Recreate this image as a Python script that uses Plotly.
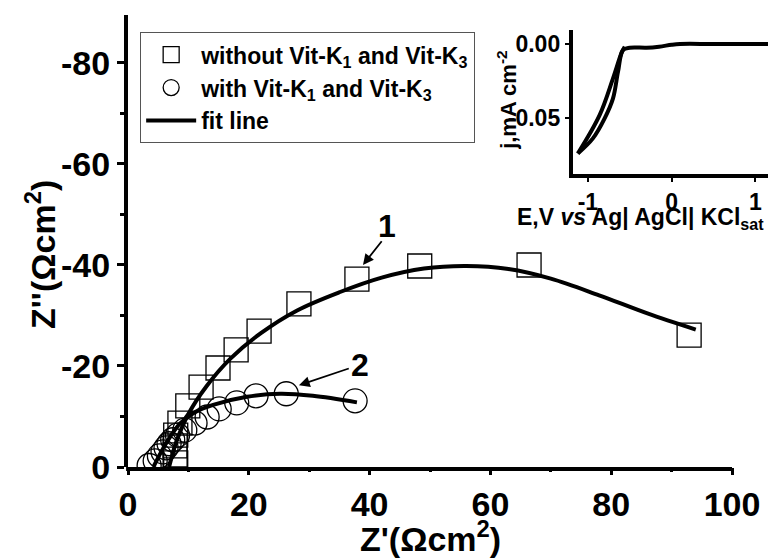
import plotly.graph_objects as go

# ---- main Nyquist data (Z' , Z'') ----
zre_1 = [7.9, 7.8, 7.8, 7.9, 8.6, 9.9, 12.1, 14.9, 17.9, 21.7, 28.3, 37.9, 48.3, 66.4, 92.9]
zim_1 = [-0.8, -2.4, -4.2, -6.3, -8.7, -12.1, -15.8, -19.6, -23.2, -26.9, -32.3, -37.2, -39.8, -40.0, -26.1]

zre_2 = [3.5, 4.5, 5.2, 5.8, 6.3, 6.8, 7.4, 8.2, 9.4, 11.1, 13.1, 15.1, 18.0, 21.2, 26.2, 37.6]
zim_2 = [-0.3, -1.2, -2.2, -3.0, -3.8, -4.6, -5.4, -6.3, -7.3, -8.7, -9.9, -11.5, -12.7, -14.1, -14.5, -13.1]

fit_re_1 = [6.8, 8.0, 10.0, 13.0, 17.0, 22.0, 28.0, 35.0, 42.0, 49.0, 56.0, 63.0, 70.0, 78.0, 86.0, 94.0]
fit_im_1 = [0.0, -5.0, -10.5, -16.0, -21.5, -26.5, -31.0, -34.6, -37.5, -39.3, -39.8, -39.2, -37.3, -34.0, -30.4, -27.2]

fit_re_2 = [4.2, 5.5, 7.0, 8.6, 11.0, 14.1, 19.7, 25.2, 30.6, 37.9]
fit_im_2 = [0.0, -3.0, -6.0, -8.6, -10.8, -12.3, -13.9, -14.5, -14.1, -12.8]

# ---- inset polarisation curve ----
e_fwd = [-1.12, -0.94, -0.80, -0.70, -0.64, -0.58, -0.50, -0.30, -0.15, 0.0, 0.10, 0.50, 1.15]
j_fwd = [-0.0739, -0.0637, -0.0502, -0.0367, -0.0187, -0.0040, -0.0025, -0.0025, -0.0018, -0.0005, 0.0, 0.0, 0.0]
e_back = [-0.56, -0.60, -0.70, -0.86, -1.12]
j_back = [-0.0018, -0.0063, -0.0232, -0.0480, -0.0739]

x_ticks = [0, 20, 40, 60, 80, 100]
x_minor = [10, 30, 50, 70, 90]
y_ticks = [0, -20, -40, -60, -80]
y_minor = [-10, -30, -50, -70]
in_x_ticks = [-1, 0, 1]
in_y_ticks = [0.0, -0.05]

FONT = "Liberation Sans, Arial, sans-serif"

fig = go.Figure()
fig.add_trace(go.Scatter(
    x=zre_1, y=zim_1, mode="markers",
    name="without Vit-K<sub>1</sub> and Vit-K<sub>3</sub>",
    marker=dict(symbol="square-open", size=24, color="black", line=dict(width=1.3)),
))
fig.add_trace(go.Scatter(
    x=zre_2, y=zim_2, mode="markers",
    name="with Vit-K<sub>1</sub> and Vit-K<sub>3</sub>",
    marker=dict(symbol="circle-open", size=24, color="black", line=dict(width=1.3)),
))
fig.add_trace(go.Scatter(
    x=fit_re_1, y=fit_im_1, mode="lines", name="fit line",
    line=dict(color="black", width=4, shape="spline"),
))
fig.add_trace(go.Scatter(
    x=fit_re_2, y=fit_im_2, mode="lines", showlegend=False,
    line=dict(color="black", width=4, shape="spline"),
))
fig.add_trace(go.Scatter(
    x=e_fwd, y=j_fwd, mode="lines", showlegend=False, xaxis="x2", yaxis="y2",
    line=dict(color="black", width=4, shape="spline"),
))
fig.add_trace(go.Scatter(
    x=e_back, y=j_back, mode="lines", showlegend=False, xaxis="x2", yaxis="y2",
    line=dict(color="black", width=4, shape="spline"),
))

tickfont = dict(family=FONT, size=34, color="black", weight="bold")
in_tickfont = dict(family=FONT, size=23, color="black", weight="bold")

x_max = 100 * 640 / 604.0

fig.update_layout(
    width=768, height=559,
    margin=dict(l=128, r=0, t=15, b=92),
    paper_bgcolor="white", plot_bgcolor="white",
    showlegend=True,
    legend=dict(
        x=0.019, y=0.962, xanchor="left", yanchor="top",
        bgcolor="white", bordercolor="#555", borderwidth=1,
        font=dict(family=FONT, size=23, color="black", weight="bold"),
        itemwidth=50,
    ),
    xaxis=dict(
        domain=[0, 1], range=[0, x_max], showline=False, showgrid=False, zeroline=False,
        tickmode="array", tickvals=x_ticks, ticktext=[str(v) for v in x_ticks],
        ticks="outside", ticklen=7, tickwidth=3, tickcolor="black",
        minor=dict(tickvals=x_minor, ticks="outside", ticklen=4, tickwidth=3, tickcolor="black"),
        tickfont=tickfont,
    ),
    yaxis=dict(
        domain=[0, 1], range=[0, -89.5], showline=True, linewidth=4, linecolor="black",
        showgrid=False, zeroline=False,
        tickmode="array", tickvals=y_ticks, ticktext=[str(v) for v in y_ticks],
        ticks="outside", ticklen=7, tickwidth=3, tickcolor="black",
        minor=dict(tickvals=y_minor, ticks="outside", ticklen=4, tickwidth=3, tickcolor="black"),
        tickfont=tickfont,
    ),
    xaxis2=dict(
        domain=[0.695, 1.0], anchor="y2", range=[-1.18, 1.15],
        showline=True, linewidth=4, linecolor="black", showgrid=False, zeroline=False,
        tickmode="array", tickvals=in_x_ticks, ticktext=[str(v) for v in in_x_ticks],
        ticks="outside", ticklen=4, tickwidth=2, tickcolor="black", tickfont=in_tickfont,
    ),
    yaxis2=dict(
        domain=[0.648, 0.967], anchor="x2", range=[-0.0878, 0.0095],
        showline=True, linewidth=4, linecolor="black", showgrid=False, zeroline=False,
        tickmode="array", tickvals=in_y_ticks, ticktext=["0.00", "-0.05"],
        ticks="outside", ticklen=4, tickwidth=2, tickcolor="black", tickfont=in_tickfont,
    ),
    shapes=[dict(type="line", xref="paper", yref="paper",
                 x0=-0.003, x1=100 / x_max, y0=-0.0045, y1=-0.0045,
                 line=dict(color="black", width=4))],
)

ann_font = dict(family=FONT, size=34, color="black", weight="bold")
fig.add_annotation(xref="paper", yref="paper", x=0.472, y=-0.153, text="Z'(Ωcm<sup>2</sup>)",
                   xanchor="center", yanchor="middle", showarrow=False, font=ann_font)
fig.add_annotation(xref="paper", yref="paper", x=-0.1375, y=0.469, text="Z''(Ωcm<sup>2</sup>)",
                   xanchor="center", yanchor="middle", showarrow=False, textangle=-90, font=ann_font)
fig.add_annotation(xref="paper", yref="paper", x=0.8, y=0.549,
                   text="E,V <i>vs</i> Ag| AgCl| KCl<sub>sat</sub>",
                   xanchor="center", yanchor="middle", showarrow=False,
                   font=dict(family=FONT, size=23, color="black", weight="bold"))
fig.add_annotation(xref="paper", yref="paper", x=0.592, y=0.812, text="j,mA cm<sup>-2</sup>",
                   xanchor="center", yanchor="middle", showarrow=False, textangle=-90,
                   font=dict(family=FONT, size=22, color="black", weight="bold"))
# curve labels and arrows
fig.add_annotation(x=42.9, y=-47.7, text="1", showarrow=False,
                   font=dict(family=FONT, size=32, color="black", weight="bold"))
fig.add_annotation(x=38.9, y=-40.0, ax=42.2, ay=-45.0, axref="x", ayref="y", text="",
                   showarrow=True, arrowhead=2, arrowsize=1.2, arrowwidth=1.8, arrowcolor="black")
fig.add_annotation(x=38.4, y=-20.2, text="2", showarrow=False,
                   font=dict(family=FONT, size=32, color="black", weight="bold"))
fig.add_annotation(x=28.3, y=-16.2, ax=36.8, ay=-19.6, axref="x", ayref="y", text="",
                   showarrow=True, arrowhead=2, arrowsize=1.2, arrowwidth=1.8, arrowcolor="black")

fig.write_html("out.html")
